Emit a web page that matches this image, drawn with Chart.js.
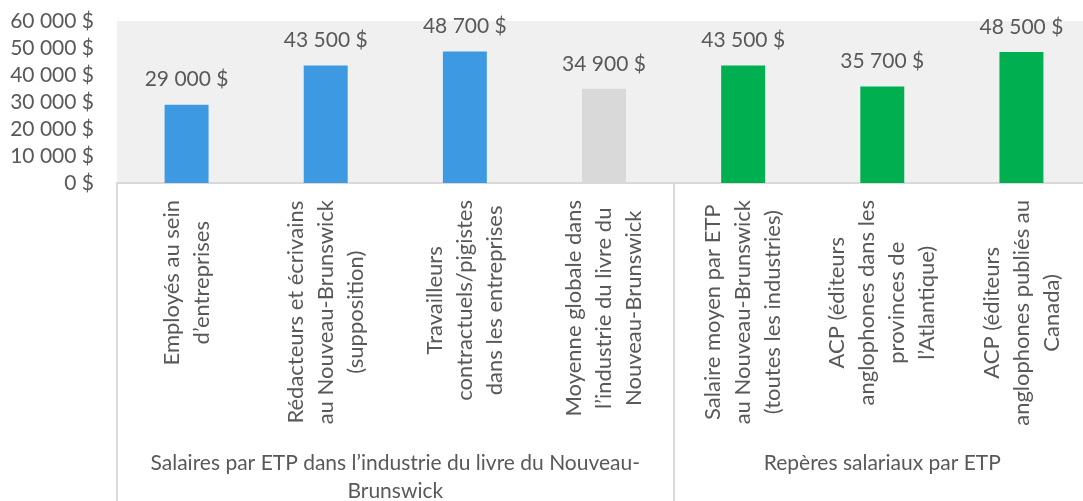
<!DOCTYPE html>
<html lang="fr">
<head>
<meta charset="utf-8">
<title>Salaires par ETP</title>
<script src="https://cdn.jsdelivr.net/npm/chart.js@4/dist/chart.umd.min.js"></script>
<style>
  html, body { margin: 0; padding: 0; background: #fff; overflow: hidden; }
  #wrap { position: relative; width: 1091px; height: 501px; }
</style>
</head>
<body>
<div id="wrap"><canvas id="chart"></canvas></div>
<script>
// --- Data ---
const categories = [
  ["Employés au sein", "d’entreprises"],
  ["Rédacteurs et écrivains", "au Nouveau-Brunswick", "(supposition)"],
  ["Travailleurs", "contractuels/pigistes", "dans les entreprises"],
  ["Moyenne globale dans", "l’industrie du livre du", "Nouveau-Brunswick"],
  ["Salaire moyen par ETP", "au Nouveau-Brunswick", "(toutes les industries)"],
  ["ACP (éditeurs", "anglophones dans les", "provinces de", "l’Atlantique)"],
  ["ACP (éditeurs", "anglophones publiés au", "Canada)"]
];
const salaries = [29000, 43500, 48700, 34900, 43500, 35700, 48500];
const barColors = ["#3d9ae2", "#3d9ae2", "#3d9ae2", "#d9d9d9", "#00b050", "#00b050", "#00b050"];

// groups: label lines, first and last category index
const groups = [
  { lines: ["Salaires par ETP dans l’industrie du livre du Nouveau-", "Brunswick"], from: 0, to: 3 },
  { lines: ["Repères salariaux par ETP"], from: 4, to: 6 }
];

const Y_MIN = 0, Y_MAX = 60000, Y_STEP = 10000;

const FONT = "Lato, 'Open Sans', sans-serif";
const TEXT = "#595959";
const LINE = "#d9d9d9";

function money(v) {
  return String(v).replace(/\B(?=(\d{3})+(?!\d))/g, " ") + " $";
}

// --- Plugins ---
const plotBackground = {
  id: "plotBackground",
  beforeDraw(chart) {
    const { ctx, chartArea: a } = chart;
    ctx.save();
    ctx.fillStyle = "#f0f0f0";
    ctx.fillRect(a.left, a.top, a.right - a.left, a.bottom - a.top);
    ctx.restore();
  }
};

const valueLabels = {
  id: "valueLabels",
  afterDatasetsDraw(chart) {
    const { ctx } = chart;
    const meta = chart.getDatasetMeta(0);
    ctx.save();
    ctx.font = "21px " + FONT;
    ctx.fillStyle = TEXT;
    ctx.textAlign = "center";
    ctx.textBaseline = "middle";
    meta.data.forEach((bar, i) => {
      ctx.fillText(money(salaries[i]), bar.x, bar.y - 25);
    });
    ctx.restore();
  }
};

const categoryAxis = {
  id: "categoryAxis",
  afterDraw(chart) {
    const { ctx, chartArea: a } = chart;
    const x = chart.scales.x;
    const half = (x.getPixelForValue(1) - x.getPixelForValue(0)) / 2;
    ctx.save();

    // separators under the axis
    ctx.strokeStyle = LINE;
    ctx.lineWidth = 2;
    const edges = [0];
    groups.forEach(g => edges.push(g.to + 1));
    edges.forEach(i => {
      const px = Math.round(x.getPixelForValue(i) - half);
      ctx.beginPath();
      ctx.moveTo(px, a.bottom);
      ctx.lineTo(px, chart.height);
      ctx.stroke();
    });

    // rotated category labels, lines centred on the tick
    ctx.font = "22px " + FONT;
    ctx.fillStyle = TEXT;
    ctx.textBaseline = "middle";
    const lh = 30;
    categories.forEach((lines, i) => {
      const cx = x.getPixelForValue(i);
      const maxW = Math.max(...lines.map(l => ctx.measureText(l).width));
      const midY = a.bottom + 17 + maxW / 2;
      ctx.save();
      ctx.translate(cx, midY);
      ctx.rotate(-Math.PI / 2);
      ctx.textAlign = "center";
      lines.forEach((l, k) => {
        ctx.fillText(l, 0, (k - (lines.length - 1) / 2) * lh);
      });
      ctx.restore();
    });

    // group labels
    ctx.font = "21px " + FONT;
    ctx.textAlign = "center";
    groups.forEach(g => {
      const gx = (x.getPixelForValue(g.from) + x.getPixelForValue(g.to)) / 2;
      g.lines.forEach((l, k) => {
        ctx.fillText(l, gx, 463 + k * 28);
      });
    });
    ctx.restore();
  }
};

// --- Chart ---
new Chart(document.getElementById("chart"), {
  type: "bar",
  data: {
    labels: categories,
    datasets: [{
      data: salaries,
      backgroundColor: barColors,
      borderWidth: 0,
      categoryPercentage: 1,
      barPercentage: 0.316
    }]
  },
  options: {
    responsive: true,
    maintainAspectRatio: false,
    animation: false,
    events: [],
    layout: { padding: { top: 21, right: 0, bottom: 0, left: 0 } },
    plugins: {
      legend: { display: false },
      tooltip: { enabled: false }
    },
    scales: {
      x: {
        grid: { display: false, drawTicks: false },
        border: { display: true, color: LINE, width: 2 },
        ticks: { display: false },
        afterFit(scale) {
          scale.height = 318;
          scale.paddingLeft = 0;
          scale.paddingRight = 0;
        }
      },
      y: {
        min: Y_MIN,
        max: Y_MAX,
        grid: { display: false, drawTicks: false },
        border: { display: false },
        ticks: {
          stepSize: Y_STEP,
          autoSkip: false,
          padding: 23,
          color: TEXT,
          font: { family: FONT, size: 21 },
          callback: v => money(v)
        },
        afterFit(scale) {
          scale.width = 117;
          scale.paddingTop = 0;
          scale.paddingBottom = 0;
        }
      }
    }
  },
  plugins: [plotBackground, valueLabels, categoryAxis]
});
</script>
</body>
</html>
